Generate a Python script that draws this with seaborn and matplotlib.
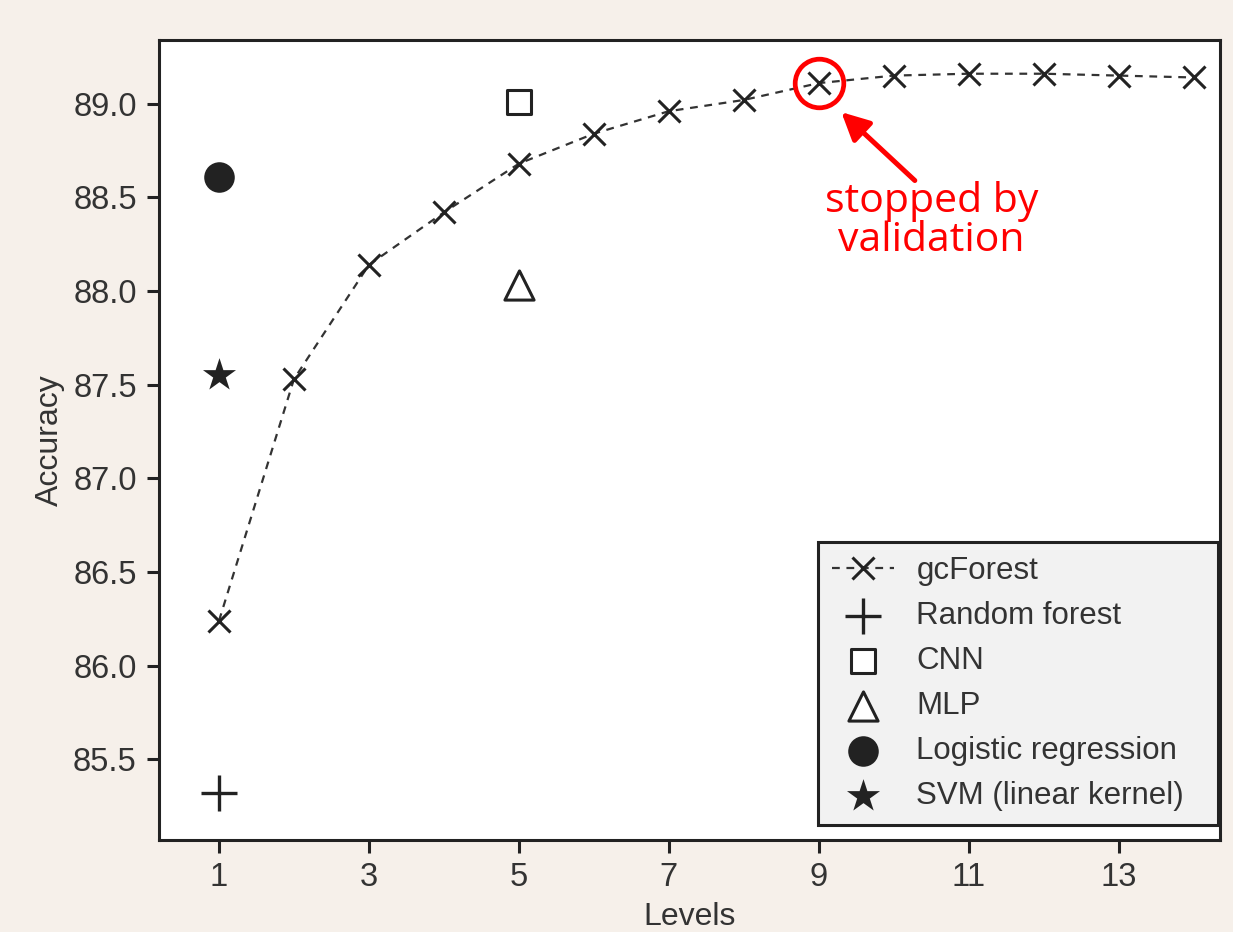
import matplotlib
matplotlib.use("Agg")
import matplotlib.pyplot as plt
import seaborn as sns
import pandas as pd

# gcForest accuracy per cascade level
levels = list(range(1, 15))
gc_acc = [86.24, 87.53, 88.14, 88.42, 88.68, 88.84, 88.96, 89.02, 89.11,
          89.15, 89.16, 89.16, 89.15, 89.14]

# baselines (level, accuracy)
base_names = ["Random forest", "CNN", "MLP", "Logistic regression", "SVM (linear kernel)"]
base_level = [1, 5, 5, 1, 1]
base_acc = [85.32, 89.01, 88.03, 88.61, 87.55]

stop_level = 9
stop_acc = 89.11

sns.set_style("ticks")
plt.rcParams['font.family'] = ['Liberation Sans', 'DejaVu Sans']

fig = plt.figure(figsize=(12.33, 9.32), dpi=100, facecolor="#f6f0ea")
ax = fig.add_axes([159 / 1233, 1 - 840 / 932, (1220 - 159) / 1233, (840 - 40) / 932])
ax.set_facecolor("white")

ink = "#222222"

df = pd.DataFrame({"Levels": levels, "Accuracy": gc_acc})
sns.lineplot(data=df, x="Levels", y="Accuracy", ax=ax, color="#333333",
             marker="x", markersize=16, markeredgewidth=2.2, markeredgecolor=ink,
             linewidth=1.6, dashes=False, label="gcForest")
ax.lines[0].set_dashes((3.5, 3))

styles = {
    "Random forest": dict(marker="+", s=26 ** 2, color=ink, linewidth=2.4),
    "CNN": dict(marker="s", s=17 ** 2, facecolor="white", edgecolor=ink, linewidth=2.2),
    "MLP": dict(marker="^", s=21 ** 2, facecolor="white", edgecolor=ink, linewidth=2.2),
    "Logistic regression": dict(marker="o", s=22 ** 2, color=ink, linewidth=0),
    "SVM (linear kernel)": dict(marker="*", s=25 ** 2, color=ink, linewidth=0),
}
for name, lv, acc in zip(base_names, base_level, base_acc):
    sns.scatterplot(x=[lv], y=[acc], ax=ax, label=name, **styles[name])

# annotation: stopped by validation
ax.plot([stop_level], [stop_acc], marker="o", markersize=35, fillstyle="none",
        markeredgecolor="red", markeredgewidth=3.4, linestyle="none")
ax.annotate("", xy=(9.3, 88.955), xytext=(10.28, 88.59),
            arrowprops=dict(arrowstyle="-|>", color="red", lw=3.6, mutation_scale=42,
                            shrinkA=0, shrinkB=0))
ax.text(10.5, 88.375, "stopped by\nvalidation", ha="center", va="center", color="red",
        fontsize=29.5, family=["Open Sans", "DejaVu Sans"], linespacing=0.95)

ax.set_xlim(0.2, 14.35)
ax.set_ylim(85.07, 89.34)
ax.set_xticks([1, 3, 5, 7, 9, 11, 13])
ax.set_yticks([85.5, 86.0, 86.5, 87.0, 87.5, 88.0, 88.5, 89.0])
ax.set_yticklabels([f"{v:.1f}" for v in [85.5, 86.0, 86.5, 87.0, 87.5, 88.0, 88.5, 89.0]])
ax.tick_params(direction="out", length=9, width=2.2, color=ink, labelsize=23.5,
               labelcolor="#333333", pad=7)
for sp in ax.spines.values():
    sp.set_visible(True)
    sp.set_linewidth(2.2)
    sp.set_color(ink)

ax.set_xlabel("Levels", fontsize=23, color="#333333", labelpad=6)
ax.set_ylabel("Accuracy", fontsize=23, color="#333333", labelpad=6)

leg = ax.legend(loc="lower left", bbox_to_anchor=(0.621, 0.019, 0.377, 0.35),
                mode="expand", borderaxespad=0,
                fontsize=22.5, frameon=True, fancybox=False, framealpha=1,
                facecolor="#f2f2f2", edgecolor=ink, labelspacing=0.48,
                handlelength=2.0, handletextpad=0.7, borderpad=0.45)
leg.get_frame().set_linewidth(2.2)
for t in leg.get_texts():
    t.set_color("#333333")

fig.savefig("out.png", dpi=100, facecolor=fig.get_facecolor())
